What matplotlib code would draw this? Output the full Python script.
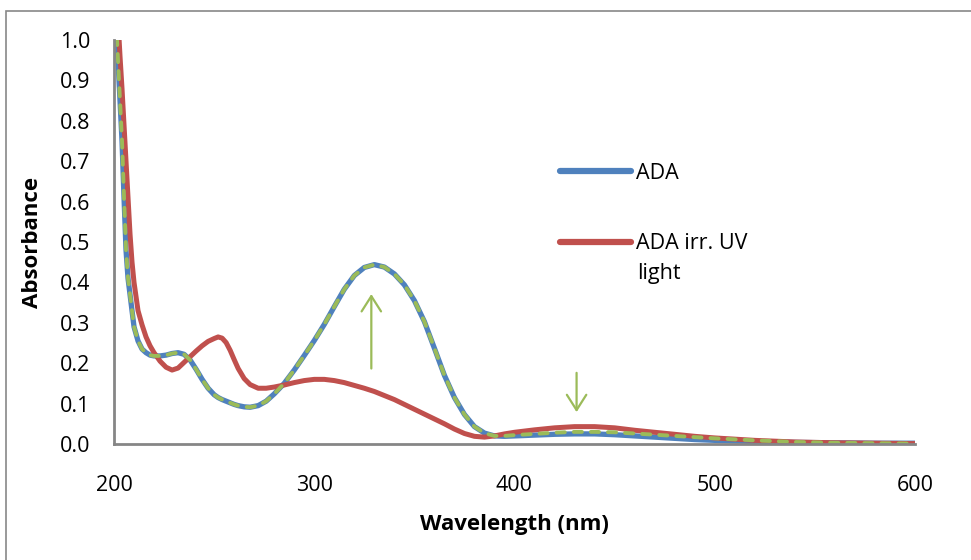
import matplotlib.pyplot as plt
from matplotlib.patches import Rectangle
from matplotlib.lines import Line2D

plt.rcParams['font.family'] = ['Open Sans', 'DejaVu Sans']

# wavelength grid (nm)
wavelength = [201, 202, 203, 204, 205, 206, 207, 208, 209, 210, 212, 214, 216, 218, 220,
              223, 226, 229, 232, 235, 238, 241, 244, 247, 250, 252, 254, 256, 258, 260, 262, 265,
              268, 272, 276, 280, 285, 290, 295, 300, 305, 310, 315, 320, 325, 330, 335,
              340, 345, 350, 355, 360, 365, 370, 375, 380, 385, 390, 395, 400, 410, 420,
              430, 440, 450, 460, 470, 480, 490, 500, 520, 540, 560, 580, 600]

# ADA
ada = [1.05, 0.95, 0.85, 0.75, 0.61, 0.48, 0.41, 0.37, 0.33, 0.29, 0.255, 0.235, 0.226, 0.220, 0.218,
       0.218, 0.220, 0.224, 0.226, 0.222, 0.208, 0.185, 0.160, 0.138, 0.122, 0.115, 0.110, 0.106, 0.102, 0.098,
       0.095, 0.092,
       0.091, 0.095, 0.106, 0.124, 0.150, 0.183, 0.219, 0.256, 0.296, 0.340, 0.383, 0.417, 0.437, 0.444, 0.438,
       0.421, 0.394, 0.355, 0.303, 0.237, 0.170, 0.115, 0.073, 0.043, 0.027, 0.020, 0.019, 0.020, 0.022, 0.024,
       0.025, 0.025, 0.023, 0.020, 0.017, 0.014, 0.011, 0.009, 0.006, 0.004, 0.003, 0.002, 0.002]

# ADA irradiated with UV light
ada_uv = [1.15, 1.05, 0.96, 0.88, 0.79, 0.70, 0.61, 0.52, 0.45, 0.40, 0.33, 0.295, 0.265, 0.243, 0.226,
          0.205, 0.190, 0.183, 0.188, 0.202, 0.216, 0.230, 0.243, 0.254, 0.261, 0.265, 0.262, 0.251, 0.232, 0.209,
          0.187, 0.162,
          0.147, 0.138, 0.138, 0.141, 0.146, 0.152, 0.157, 0.160, 0.160, 0.157, 0.152, 0.145, 0.138, 0.130, 0.120,
          0.110, 0.098, 0.086, 0.074, 0.062, 0.050, 0.037, 0.026, 0.019, 0.017, 0.020, 0.025, 0.029, 0.035, 0.040,
          0.043, 0.043, 0.040, 0.034, 0.029, 0.024, 0.019, 0.015, 0.009, 0.005, 0.003, 0.002, 0.001]

# dashed series (not in legend): follows ADA up to 390 nm, then its own tail
ada_back_tail = [0.020, 0.022, 0.025, 0.028, 0.030, 0.030, 0.029, 0.026, 0.023, 0.020,
                 0.017, 0.014, 0.009, 0.005, 0.003, 0.002, 0.001]
ada_back = ada[:wavelength.index(390) + 1] + ada_back_tail

# arrows: wavelength, start, end
arrow_wl = [328.5, 431]
arrow_start = [0.18, 0.183]
arrow_end = [0.378, 0.072]

blue = '#4F81BD'
red = '#C0504D'
green = '#9BBB59'

fig = plt.figure(figsize=(9.71, 5.60), dpi=100)
ax = fig.add_axes([114 / 971, 1 - 444 / 560, 801 / 971, 404 / 560])

ax.plot(wavelength, ada, color=blue, lw=3.8, solid_capstyle='round')
ax.plot(wavelength, ada_uv, color=red, lw=3.6, solid_capstyle='round')
ax.plot(wavelength, ada_back, color=green, lw=2.8, dashes=(2.1, 2.3), dash_capstyle='round')

for w, a0, a1 in zip(arrow_wl, arrow_start, arrow_end):
    ax.annotate('', xy=(w, a1), xytext=(w, a0),
                arrowprops=dict(arrowstyle='->,head_length=0.55,head_width=0.35',
                                color=green, lw=1.6, mutation_scale=20))

ax.set_xlim(200, 600)
ax.set_ylim(0, 1.0)
ax.set_xticks([200, 300, 400, 500, 600])
ax.set_yticks([i / 10 for i in range(11)])
ax.set_yticklabels([f'{i / 10:.1f}' for i in range(11)])
ax.tick_params(axis='both', length=0, labelsize=15.5)
ax.tick_params(axis='x', pad=22)
ax.tick_params(axis='y', pad=17)
for s in ['top', 'right']:
    ax.spines[s].set_visible(False)
for s in ['left', 'bottom']:
    ax.spines[s].set_color('#868686')
    ax.spines[s].set_linewidth(2)

ax.set_xlabel('Wavelength (nm)', fontsize=16, fontweight='bold', labelpad=13)
ax.set_ylabel('Absorbance', fontsize=16, fontweight='bold', labelpad=12)

handles = [Line2D([], [], color=blue, lw=4.5, solid_capstyle='round'),
           Line2D([], [], color=red, lw=4.5, solid_capstyle='round')]
fig.legend(handles, ['ADA', 'ADA irr. UV'], loc='upper left',
           bbox_to_anchor=(560 / 971, 1 - 163 / 560), frameon=False, fontsize=15.5,
           handlelength=3.3, handletextpad=0.25, labelspacing=2.28, borderpad=0, borderaxespad=0)
fig.text(637 / 971, 1 - 274 / 560, 'light', fontsize=15.5, va='center', ha='left')

# outer chart frame
fig.patches.append(Rectangle((6 / 971, -0.5), 2, 1.5 - 10.5 / 560, transform=fig.transFigure,
                             fill=False, edgecolor='#888888', lw=1.2))

fig.savefig('out.png', dpi=100)
